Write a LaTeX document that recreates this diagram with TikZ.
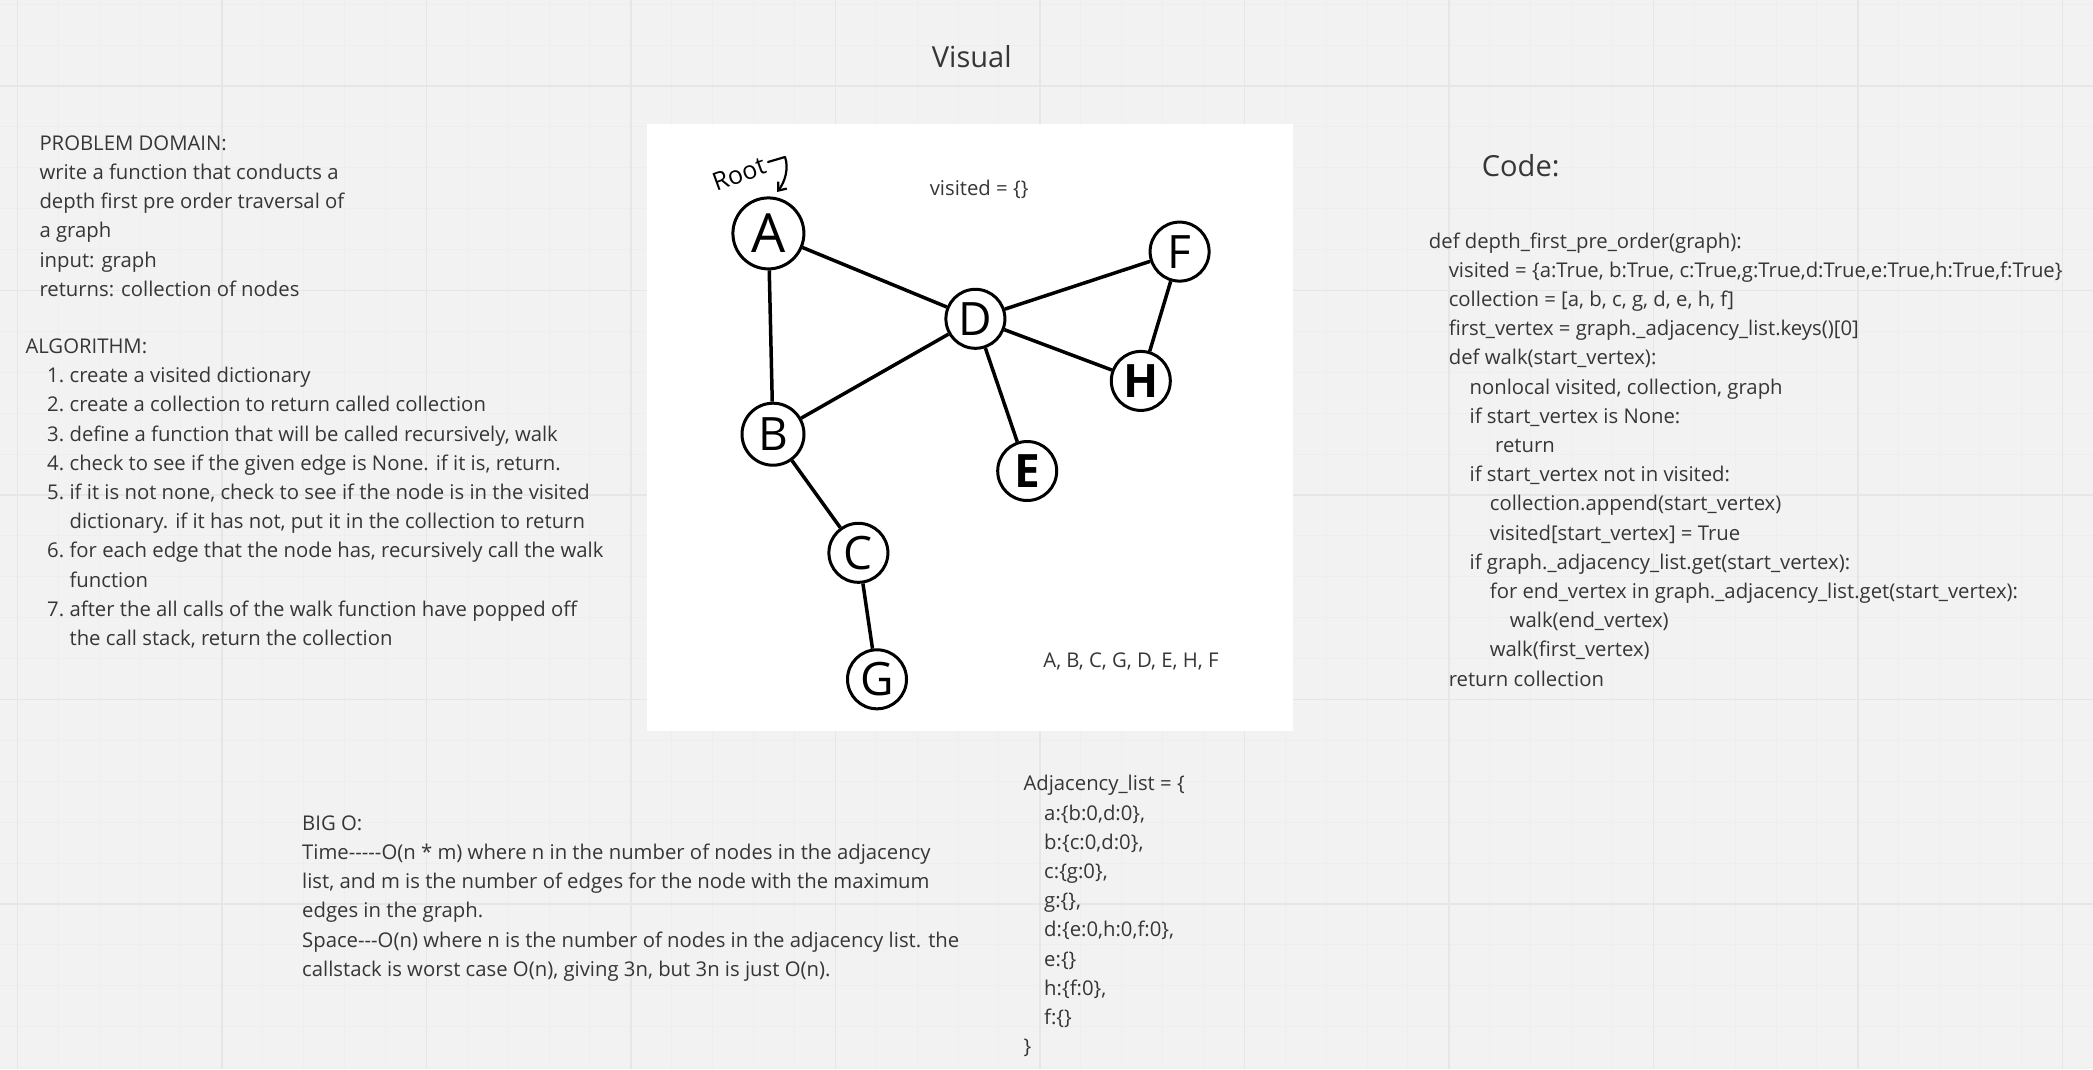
\documentclass[tikz,border=0pt]{standalone}
\usepackage{fontspec}
\setmainfont{Open Sans}[Ligatures=TeXOff]
\usetikzlibrary{arrows.meta}

\definecolor{canvas}{HTML}{F2F2F2}
\definecolor{gridminor}{HTML}{EEEEEE}
\definecolor{gridmajor}{HTML}{E6E6E6}
\definecolor{inkgray}{HTML}{363636}

\newcommand{\bodysize}{\fontsize{20.3}{29.2}\selectfont}
\newcommand{\headsize}{\fontsize{29}{34}\selectfont}
\newcommand{\lettersize}{\fontsize{46}{46}\selectfont}
\newcommand{\ind}[1]{\hspace*{#1pt}}
\newcommand{\algoitem}[1]{\hspace*{21.7pt}\makebox[22.4pt][l]{#1}}

\begin{document}
\begin{tikzpicture}[
    x=1pt, y=-1pt,
    % Stili
    minorline/.style={draw=gridminor, line width=1pt},
    majorline/.style={draw=gridmajor, line width=1.4pt},
    vertex/.style={circle, draw=black, line width=3pt, fill=white, inner sep=0pt, minimum size=59pt, font=\lettersize},
    link/.style={line width=3.5pt, black},
    txt/.style={anchor=north west, inner sep=0pt, align=left, text=inkgray, font=\bodysize},
    note/.style={anchor=base west, inner sep=0pt, text=inkgray, font=\bodysize},
    heading/.style={anchor=base west, inner sep=0pt, text=inkgray, font=\headsize},
    rootarrow/.style={line width=2.2pt, -{Straight Barb[length=7pt, width=11pt]}, line cap=round, line join=round}
]

    % ==================== CANVAS ====================
    \useasboundingbox (0,0) rectangle (2093,1069);
    \fill[canvas] (0,0) rectangle (2093,1069);
    \foreach \k in {0,...,51} \draw[minorline] ({17.3+40.9*\k},0) -- ({17.3+40.9*\k},1069);
    \foreach \k in {0,...,26} \draw[minorline] (0,{4.2+40.9*\k}) -- (2093,{4.2+40.9*\k});
    \foreach \k in {0,5,...,50} \draw[majorline] ({17.3+40.9*\k},0) -- ({17.3+40.9*\k},1069);
    \foreach \k in {2,7,...,22} \draw[majorline] (0,{4.2+40.9*\k}) -- (2093,{4.2+40.9*\k});

    % ==================== TITLES ====================
    \node[heading] (visual) at (931.7,67.7) {Visual};
    \node[heading] (codetitle) at (1481.7,176.3) {Code:};

    % ==================== PROBLEM / ALGORITHM ====================
    \node[txt] (problem) at (39.3,129.6) {\strut PROBLEM DOMAIN:\\
        write a function that conducts a\\
        depth first pre order traversal of\\
        a graph\\
        input: graph\\
        returns: collection of nodes};

    \node[txt] (algo) at (25.3,332.9) {\strut ALGORITHM:\\
        \algoitem{1.}create a visited dictionary\\
        \algoitem{2.}create a collection to return called collection\\
        \algoitem{3.}define a function that will be called recursively, walk\\
        \algoitem{4.}check to see if the given edge is None. if it is, return.\\
        \algoitem{5.}if it is not none, check to see if the node is in the visited\\
        \ind{44.1}dictionary. if it has not, put it in the collection to return\\
        \algoitem{6.}for each edge that the node has, recursively call the walk\\
        \ind{44.1}function\\
        \algoitem{7.}after the all calls of the walk function have popped off\\
        \ind{44.1}the call stack, return the collection};

    % ==================== BIG O ====================
    \node[txt] (bigo) at (302,809.6) {\strut BIG O:\\
        Time-----O(n * m) where n in the number of nodes in the adjacency\\
        list, and m is the number of edges for the node with the maximum\\
        edges in the graph.\\
        Space---O(n) where n is the number of nodes in the adjacency list. the\\
        callstack is worst case O(n), giving 3n, but 3n is just O(n).};

    % ==================== ADJACENCY LIST ====================
    \node[txt] (adjlist) at (1023.3,770.3) {\strut Adjacency\_list = \{\\
        \ind{20.7}a:\{b:0,d:0\},\\
        \ind{20.7}b:\{c:0,d:0\},\\
        \ind{20.7}c:\{g:0\},\\
        \ind{20.7}g:\{\},\\
        \ind{20.7}d:\{e:0,h:0,f:0\},\\
        \ind{20.7}e:\{\}\\
        \ind{20.7}h:\{f:0\},\\
        \ind{20.7}f:\{\}\\
        \}};

    % ==================== CODE ====================
    \node[txt] (code) at (1428.7,227.4) {\strut def depth\_first\_pre\_order(graph):\\
        \ind{19.9}visited = \{a:True, b:True, c:True,g:True,d:True,e:True,h:True,f:True\}\\
        \ind{19.9}collection = [a, b, c, g, d, e, h, f]\\
        \ind{19.9}first\_vertex = graph.\_adjacency\_list.keys()[0]\\
        \ind{19.9}def walk(start\_vertex):\\
        \ind{40.7}nonlocal visited, collection, graph\\
        \ind{40.7}if start\_vertex is None:\\
        \ind{66.3}return\\
        \ind{40.7}if start\_vertex not in visited:\\
        \ind{61}collection.append(start\_vertex)\\
        \ind{61}visited[start\_vertex] = True\\
        \ind{40.7}if graph.\_adjacency\_list.get(start\_vertex):\\
        \ind{61}for end\_vertex in graph.\_adjacency\_list.get(start\_vertex):\\
        \ind{80.9}walk(end\_vertex)\\
        \ind{61}walk(first\_vertex)\\
        \ind{19.9}return collection};

    % ==================== VISUAL PANEL ====================
    \fill[white] (647,124) rectangle (1293,731);
    \node[note] (visited) at (929.6,195) {visited = \{\}};
    \node[note] (order) at (1043.2,667.4) {A, B, C, G, D, E, H, F};

    % Nodi del grafo
    \node[vertex, minimum size=71pt, font=\fontsize{54}{54}\selectfont] (A) at (768.4,233.4) {A};
    \node[vertex] (D) at (975.4,318.8) {D};
    \node[vertex] (F) at (1179.6,251.6) {F};
    \node[vertex] (H) at (1140.8,380.9) {\bfseries H};
    \node[vertex, minimum size=62pt] (B) at (773,434.2) {B};
    \node[vertex] (E) at (1027.2,471) {\bfseries E};
    \node[vertex] (C) at (858.4,552.8) {C};
    \node[vertex] (G) at (877,679.3) {G};

    % Archi
    \draw[link] (A) -- (B);
    \draw[link] (A) -- (D);
    \draw[link] (B) -- (D);
    \draw[link] (B) -- (C);
    \draw[link] (C) -- (G);
    \draw[link] (D) -- (F);
    \draw[link] (D) -- (H);
    \draw[link] (D) -- (E);
    \draw[link] (F) -- (H);

    % Root
    \node[rotate=20, inner sep=0pt, font=\fontsize{25}{25}\selectfont] (rootlabel) at (739,174) {Root};
    \coordinate (rootstart) at (768,162);
    \coordinate (roottop) at (785,157);
    \coordinate (roottip) at (777,192);
    \draw[rootarrow] (rootstart) -- (roottop) .. controls (789,168) and (785,182) .. (roottip);

\end{tikzpicture}
\end{document}
